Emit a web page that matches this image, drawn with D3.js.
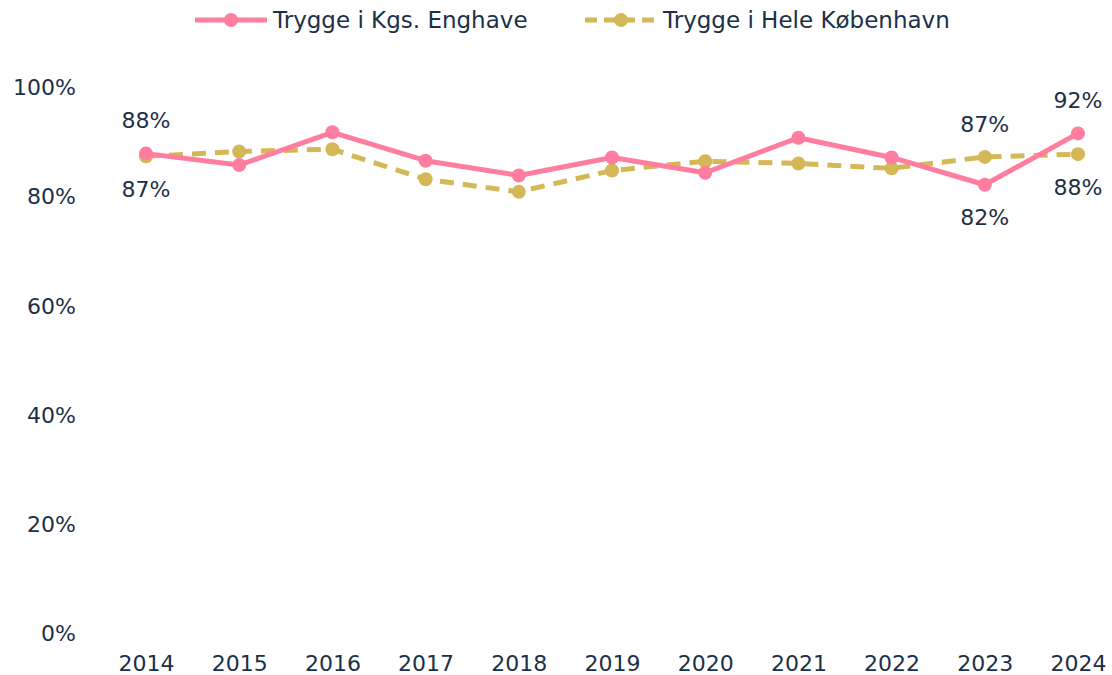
<!DOCTYPE html>
<html>
<head>
<meta charset="utf-8">
<script src="https://cdn.jsdelivr.net/npm/d3@7"></script>
<style>
  html, body { margin: 0; padding: 0; background: #ffffff; }
  svg text { font-family: "DejaVu Sans", "Noto Sans", sans-serif; fill: #1c3047; }
</style>
</head>
<body>
<svg id="chart" width="1112" height="675"></svg>
<script>
// Andel trygge borgere, 2014-2024 (procent)
const years = ["2014","2015","2016","2017","2018","2019","2020","2021","2022","2023","2024"];
const enghave = [87.8, 85.7, 91.7, 86.5, 83.8, 87.1, 84.3, 90.7, 87.1, 82.1, 91.5];
const koebenhavn = [87.3, 88.2, 88.6, 83.1, 80.8, 84.7, 86.4, 86.0, 85.1, 87.2, 87.7];
const yTicks = [0, 20, 40, 60, 80, 100];
const seriesNames = ["Trygge i Kgs. Enghave", "Trygge i Hele København"];

// Which points carry a value label, and on which side of the point
const labelsEnghave = { "2014": "above", "2023": "below", "2024": "above" };
const labelsKbh = { "2014": "below", "2023": "above", "2024": "below" };

const pink = "#ff7d9e";
const olive = "#d4b857";

const svg = d3.select("#chart");
const margin = { left: 146, right: 34, top: 87, bottom: 42 };
const W = 1112, H = 675;

const x = d3.scalePoint().domain(years).range([margin.left, W - margin.right]);
const y = d3.scaleLinear().domain([0, 100]).range([H - margin.bottom, margin.top]);

// Y axis (labels only)
const yAxis = d3.axisLeft(y).tickValues(yTicks).tickFormat(d => d + "%").tickSize(0).tickPadding(0);
svg.append("g")
  .attr("transform", "translate(76,0)")
  .call(yAxis)
  .call(g => g.select(".domain").remove())
  .call(g => g.selectAll("text").attr("font-size", 22).attr("dy", "0.35em"));

// X axis (labels only)
const xAxis = d3.axisBottom(x).tickSize(0).tickPadding(0);
svg.append("g")
  .attr("transform", `translate(0,${H - 4})`)
  .call(xAxis)
  .call(g => g.select(".domain").remove())
  .call(g => g.selectAll("text").attr("font-size", 22).attr("dy", "0"));

const line = d3.line().x((d, i) => x(years[i])).y(d => y(d));

function drawSeries(values, color, dashed, labels) {
  const g = svg.append("g");
  g.append("path")
    .datum(values)
    .attr("fill", "none")
    .attr("stroke", color)
    .attr("stroke-width", 5)
    .attr("stroke-linejoin", "round")
    .attr("stroke-dasharray", dashed ? "14,9" : null)
    .attr("d", line);
  g.selectAll("circle")
    .data(values)
    .join("circle")
    .attr("cx", (d, i) => x(years[i]))
    .attr("cy", d => y(d))
    .attr("r", 7)
    .attr("fill", color);
  const fmt = d3.format(".0f");
  values.forEach((v, i) => {
    const side = labels[years[i]];
    if (!side) return;
    g.append("text")
      .attr("x", x(years[i]))
      .attr("y", y(v) + (side === "above" ? -33 : 33))
      .attr("dy", "0.35em")
      .attr("text-anchor", "middle")
      .attr("font-size", 22)
      .text(fmt(v) + "%");
  });
}

drawSeries(koebenhavn, olive, true, labelsKbh);
drawSeries(enghave, pink, false, labelsEnghave);

// Legend
const legend = svg.append("g").attr("transform", "translate(0,20)");
const legendItems = [
  { name: seriesNames[0], color: pink, dashed: false, x0: 195 },
  { name: seriesNames[1], color: olive, dashed: true, x0: 585 }
];
legendItems.forEach(it => {
  legend.append("line")
    .attr("x1", it.x0).attr("x2", it.x0 + 72)
    .attr("y1", 0).attr("y2", 0)
    .attr("stroke", it.color)
    .attr("stroke-width", 5)
    .attr("stroke-dasharray", it.dashed ? "12,7" : null);
  legend.append("circle")
    .attr("cx", it.x0 + 36).attr("cy", 0).attr("r", 7)
    .attr("fill", it.color);
  legend.append("text")
    .attr("x", it.x0 + 78).attr("y", 0)
    .attr("dy", "0.35em")
    .attr("font-size", 23)
    .text(it.name);
});
</script>
</body>
</html>
